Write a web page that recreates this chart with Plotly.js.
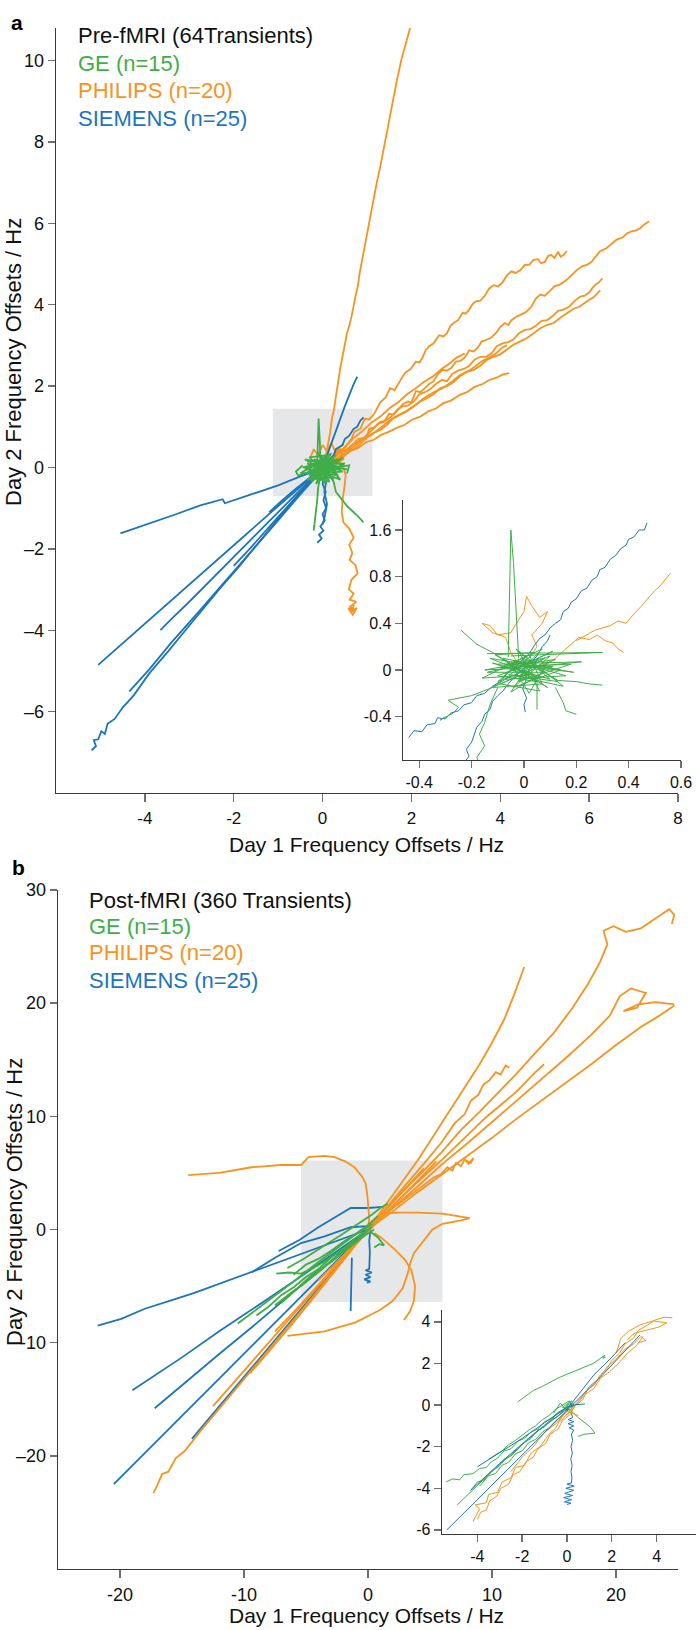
<!DOCTYPE html>
<html>
<head>
<meta charset="utf-8">
<script src="https://cdn.plot.ly/plotly-3.0.1.min.js"></script>
<style>html,body{margin:0;padding:0;background:#fff;}#chart{width:696px;height:1630px;}</style>
</head>
<body>
<div id="chart"></div>
<script>
// ---------- colours ----------
const C_GE = '#3fae49', C_PH = '#f7931e', C_SI = '#1c75bc';

// ---------- panel a : main (Day1 Hz, Day2 Hz) ----------
const A_PHILIPS = [
 [[0.05,0.15],[0.1,0.45],[0.14,0.62],[0.17,0.85],[0.21,1.2],[0.25,1.38],[0.28,1.6],[0.33,2.0],[0.37,2.2],[0.4,2.45],[0.47,2.85],[0.55,3.3],[0.6,3.48],[0.65,3.7],[0.74,4.2],[0.8,4.5],[0.83,4.75],[0.93,5.35],[1.0,5.7],[1.05,6.0],[1.17,6.7],[1.22,7.0],[1.3,7.4],[1.42,8.1],[1.55,8.8],[1.6,9.1],[1.67,9.5],[1.78,10.05],[1.88,10.45],[1.97,10.8]],
 [[0.1,0.1],[0.3,0.16],[0.45,0.08],[0.52,-0.2],[0.49,-0.5],[0.45,-0.8],[0.43,-1.1],[0.47,-1.35],[0.6,-1.5],[0.7,-1.72],[0.6,-1.9],[0.67,-2.1],[0.61,-2.27],[0.74,-2.4],[0.79,-2.6],[0.65,-2.76],[0.59,-3.0],[0.7,-3.1],[0.61,-3.25],[0.76,-3.3],[0.62,-3.42],[0.73,-3.5],[0.58,-3.46],[0.68,-3.62],[0.77,-3.45],[0.64,-3.56],[0.71,-3.38]],
 [[0.1,0.1],[0.3,0.3],[0.45,0.42],[0.55,0.38],[0.62,0.52],[0.75,0.6],[0.9,0.72],[0.98,0.7],[1.05,0.95],[1.15,0.98],[1.25,1.08],[1.38,1.12],[1.5,1.32],[1.6,1.3],[1.7,1.42],[1.8,1.55],[1.92,1.62],[2.0,1.6],[2.1,1.88],[2.2,1.85],[2.3,1.95],[2.4,2.05],[2.5,2.12],[2.6,2.3],[2.7,2.4],[2.8,2.38],[2.9,2.45],[3.0,2.6],[3.1,2.62],[3.2,2.7],[3.3,2.88],[3.4,2.85],[3.5,2.95],[3.58,3.1],[3.65,3.12],[3.78,3.18],[3.9,3.3],[4.0,3.45],[4.1,3.55],[4.18,3.5],[4.25,3.62],[4.35,3.7],[4.45,3.75],[4.58,3.82],[4.7,3.95],[4.8,4.15],[4.9,4.25],[5.0,4.22],[5.1,4.32],[5.22,4.45],[5.35,4.5],[5.48,4.6],[5.6,4.72],[5.72,4.85],[5.85,4.95],[5.95,4.98],[6.05,5.05],[6.15,5.2],[6.25,5.32],[6.38,5.38],[6.5,5.48],[6.62,5.6],[6.75,5.65],[6.85,5.75],[6.95,5.8],[7.05,5.82],[7.15,5.88],[7.25,5.98],[7.35,6.05]],
 [[0.1,0.05],[0.25,0.3],[0.35,0.45],[0.45,0.42],[0.55,0.55],[0.65,0.7],[0.72,0.88],[0.85,0.95],[0.95,1.2],[1.05,1.18],[1.15,1.3],[1.22,1.45],[1.3,1.6],[1.42,1.72],[1.52,1.95],[1.62,1.9],[1.7,2.05],[1.78,2.22],[1.85,2.32],[1.98,2.42],[2.1,2.6],[2.18,2.58],[2.25,2.7],[2.32,2.88],[2.4,2.98],[2.5,3.05],[2.62,3.25],[2.72,3.22],[2.8,3.3],[2.88,3.48],[2.95,3.55],[3.05,3.62],[3.15,3.8],[3.22,3.78],[3.3,3.88],[3.38,4.02],[3.45,4.08],[3.55,4.1],[3.65,4.22],[3.75,4.4],[3.85,4.48],[3.95,4.45],[4.05,4.55],[4.15,4.72],[4.25,4.82],[4.35,4.78],[4.45,4.85],[4.55,4.98],[4.65,4.98],[4.75,5.1],[4.85,5.12],[4.92,5.02],[5.0,5.05],[5.08,5.2],[5.15,5.22],[5.22,5.15],[5.3,5.3],[5.36,5.18],[5.42,5.22],[5.5,5.32]],
 [[0.15,0.1],[0.3,0.28],[0.5,0.42],[0.62,0.5],[0.8,0.7],[0.92,0.72],[1.05,0.85],[1.18,1.0],[1.3,1.12],[1.42,1.15],[1.55,1.25],[1.68,1.42],[1.8,1.5],[1.92,1.52],[2.05,1.62],[2.18,1.8],[2.3,1.85],[2.42,1.92],[2.55,2.05],[2.68,2.15],[2.8,2.12],[2.92,2.3],[3.05,2.38],[3.18,2.42],[3.3,2.5],[3.42,2.65],[3.55,2.72],[3.68,2.72],[3.8,2.8],[3.92,2.98],[4.05,3.05],[4.18,3.08],[4.3,3.15],[4.42,3.3],[4.55,3.38],[4.68,3.4],[4.8,3.48],[4.92,3.6],[5.05,3.62],[5.18,3.72],[5.3,3.85],[5.42,3.88],[5.55,3.95],[5.68,4.1],[5.8,4.2],[5.9,4.22],[6.0,4.3],[6.08,4.42],[6.15,4.5],[6.22,4.55],[6.3,4.65]],
 [[0.2,0.08],[0.4,0.28],[0.55,0.38],[0.7,0.45],[0.85,0.58],[1.0,0.75],[1.15,0.85],[1.3,0.92],[1.45,1.05],[1.6,1.22],[1.75,1.3],[1.9,1.38],[2.05,1.5],[2.2,1.62],[2.35,1.7],[2.5,1.8],[2.65,1.95],[2.8,2.0],[2.95,2.1],[3.1,2.25],[3.25,2.35],[3.4,2.4],[3.55,2.5],[3.7,2.65],[3.85,2.72],[4.0,2.78],[4.15,2.9],[4.3,3.02],[4.45,3.1],[4.6,3.18],[4.75,3.3],[4.9,3.42],[5.05,3.5],[5.2,3.55],[5.35,3.68],[5.5,3.8],[5.65,3.9],[5.78,3.95],[5.9,4.05],[6.0,4.12],[6.1,4.18],[6.18,4.28],[6.25,4.35]],
 [[0.1,0.05],[0.3,0.22],[0.5,0.35],[0.7,0.52],[0.9,0.68],[1.1,0.8],[1.3,0.98],[1.5,1.15],[1.7,1.28],[1.9,1.4],[2.1,1.55],[2.3,1.72],[2.5,1.85],[2.7,1.95],[2.9,2.1],[3.1,2.28],[3.3,2.38],[3.45,2.5],[3.6,2.62],[3.75,2.7],[3.9,2.8],[4.05,2.95],[4.15,3.0]],
 [[0.1,0.0],[0.3,0.18],[0.45,0.25],[0.62,0.4],[0.8,0.48],[0.98,0.62],[1.15,0.68],[1.32,0.8],[1.5,0.88],[1.68,0.98],[1.85,1.05],[2.02,1.18],[2.2,1.25],[2.38,1.38],[2.55,1.45],[2.72,1.58],[2.9,1.65],[3.08,1.78],[3.25,1.85],[3.42,1.98],[3.6,2.05],[3.75,2.15],[3.9,2.2],[4.05,2.28],[4.2,2.32]],
 [[0.1,0.1],[0.3,0.32],[0.5,0.5],[0.7,0.72],[0.9,0.9],[1.1,1.1],[1.3,1.25],[1.5,1.45],[1.7,1.6],[1.9,1.8],[2.1,1.95],[2.3,2.12],[2.5,2.25],[2.68,2.42],[2.85,2.55],[3.02,2.7],[3.2,2.8]],
 [[-0.27,0.25],[-0.2,0.45],[-0.1,0.3],[0.0,0.55],[0.1,0.4],[0.2,0.6],[0.3,0.35],[0.4,0.45],[0.47,0.2],[0.3,0.1],[0.1,0.15]]
];
const A_SIEMENS = [
 [[0,0],[-0.3,-0.36],[-0.7,-0.86],[-1.1,-1.4],[-1.5,-1.94],[-1.9,-2.46],[-2.3,-2.96],[-2.7,-3.5],[-3.1,-4.02],[-3.5,-4.55],[-3.9,-5.06],[-4.25,-5.6],[-4.5,-5.9],[-4.68,-6.18],[-4.84,-6.3],[-4.9,-6.55],[-4.98,-6.48],[-5.05,-6.68],[-5.15,-6.7],[-5.1,-6.85],[-5.2,-6.95]],
 [[0,-0.05],[-0.5,-0.66],[-1.0,-1.3],[-1.6,-2.06],[-2.2,-2.8],[-2.8,-3.56],[-3.4,-4.3],[-3.9,-4.96],[-4.35,-5.5]],
 [[0,0],[-0.6,-0.56],[-1.2,-1.14],[-1.8,-1.72],[-2.4,-2.3],[-3.0,-2.88],[-3.6,-3.45],[-4.2,-4.04],[-4.7,-4.52],[-5.05,-4.85]],
 [[0,0],[-0.5,-0.55],[-1.0,-1.1],[-1.5,-1.64],[-2.0,-2.2],[-2.5,-2.76],[-3.0,-3.3],[-3.4,-3.72],[-3.65,-4.0]],
 [[0,-0.02],[-0.5,-0.22],[-1.0,-0.44],[-1.6,-0.66],[-2.2,-0.88],[-2.25,-0.78],[-2.75,-0.93],[-3.3,-1.15],[-3.9,-1.38],[-4.55,-1.62]],
 [[0.02,0.05],[0.1,0.3],[0.2,0.62],[0.3,0.92],[0.4,1.2],[0.5,1.5],[0.6,1.8],[0.7,2.05],[0.78,2.23]],
 [[0.05,0.05],[0.15,0.2],[0.25,0.3],[0.3,0.45],[0.45,0.55],[0.5,0.7],[0.6,0.78],[0.7,0.95],[0.78,1.0],[0.85,1.15],[0.92,1.23]],
 [[0.02,0],[0.05,-0.2],[0.0,-0.4],[0.07,-0.6],[0.02,-0.8],[0.08,-1.0],[0.0,-1.15],[0.05,-1.3],[-0.05,-1.45],[0.02,-1.55],[-0.08,-1.65],[-0.02,-1.75],[-0.12,-1.85]],
 [[0.05,0],[0.09,-0.3],[0.04,-0.6],[0.1,-0.9],[0.05,-1.2],[0.0,-1.4]],
 [[0,0],[-0.4,-0.48],[-0.8,-0.96],[-1.2,-1.46],[-1.6,-1.95],[-2.0,-2.42]],
 [[0,0],[-0.3,-0.25],[-0.6,-0.52],[-0.9,-0.8],[-1.2,-1.1]]
];
const A_GE = [
 [[0,0],[0.2,0.1],[-0.15,0.05],[0.1,-0.2],[-0.3,-0.1],[0.25,0.25],[-0.1,-0.3],[0.4,0],[-0.2,0.2],[0.05,-0.1],[-0.35,0.1],[0.3,-0.15],[-0.05,0.3],[0.15,-0.35],[-0.25,-0.25],[0.35,0.2],[0,0.1],[-0.4,-0.05],[0.2,-0.05],[-0.1,0.15],[0.45,-0.1],[-0.2,-0.15],[0.1,0.3],[-0.3,0.25],[0.25,-0.3],[0,-0.05],[-0.15,-0.4],[0.3,0.05],[-0.45,0.0],[0.15,0.15],[-0.05,-0.2],[0.5,0.1],[-0.25,0.05],[0.05,0.25],[0.2,-0.25],[-0.35,-0.3],[0.1,0],[-0.1,0.35],[0.4,-0.3],[-0.2,-0.05],[0.3,0.3],[-0.05,0.05],[0.15,-0.15],[-0.4,0.2],[0.55,-0.05],[-0.15,0.1],[0.05,-0.4],[0.25,0.15],[-0.3,-0.2],[0.0,0.2],[0.35,-0.2],[-0.1,-0.1],[0.2,0.35],[-0.5,-0.15],[0.1,-0.1],[0.45,0.25],[-0.25,-0.35],[0.0,0.0]],
 [[-0.12,0.1],[-0.1,0.6],[-0.09,1.2],[-0.06,0.6],[-0.05,0.1]],
 [[0.1,-0.1],[0.25,-0.35],[0.3,-0.6],[0.45,-0.8],[0.55,-0.95],[0.7,-1.1],[0.8,-1.2],[0.92,-1.35]],
 [[-0.05,-0.2],[-0.1,-0.5],[-0.12,-0.8],[-0.15,-1.1],[-0.18,-1.4],[-0.2,-1.55]],
 [[-0.1,0],[-0.3,-0.1],[-0.55,-0.2],[-0.6,-0.1],[-0.45,0.05]],
 [[0.3,0],[0.6,0.05],[0.55,-0.15]]
];

// ---------- panel a : inset ----------
const IA_SIEMENS = [
 [[-0.44,-0.58],[-0.42,-0.52],[-0.39,-0.53],[-0.37,-0.47],[-0.34,-0.46],[-0.33,-0.41],[-0.3,-0.42],[-0.28,-0.37],[-0.25,-0.35],[-0.23,-0.3],[-0.2,-0.28],[-0.18,-0.22],[-0.15,-0.2],[-0.12,-0.14],[-0.09,-0.1],[-0.06,-0.02],[-0.03,0.03],[0.0,0.1],[0.02,0.14],[0.04,0.21],[0.06,0.27],[0.08,0.3],[0.1,0.36],[0.12,0.4],[0.14,0.43],[0.15,0.5],[0.17,0.53],[0.18,0.58],[0.2,0.61],[0.22,0.68],[0.24,0.7],[0.26,0.77],[0.28,0.8],[0.29,0.86],[0.31,0.88],[0.33,0.95],[0.35,0.98],[0.37,1.04],[0.39,1.07],[0.4,1.12],[0.42,1.14],[0.44,1.2],[0.46,1.2],[0.47,1.26]],
 [[-0.24,-0.88],[-0.23,-0.8],[-0.21,-0.74],[-0.22,-0.68],[-0.2,-0.62],[-0.19,-0.55],[-0.18,-0.49],[-0.16,-0.44],[-0.15,-0.38],[-0.13,-0.34],[-0.12,-0.27],[-0.1,-0.22],[-0.08,-0.18],[-0.06,-0.12],[-0.04,-0.07],[-0.02,-0.02],[0,0]],
 [[0.0,0.02],[0.01,-0.08],[-0.005,-0.16],[0.01,-0.24],[0.0,-0.3],[0.005,-0.36]],
 [[0.02,0.05],[0.05,0.12],[0.07,0.2],[0.09,0.25],[0.1,0.3]]
];
const IA_PHILIPS = [
 [[0.05,0.02],[0.09,0.05],[0.12,0.1],[0.15,0.16],[0.18,0.22],[0.21,0.28],[0.25,0.26],[0.28,0.3],[0.31,0.25],[0.34,0.23],[0.36,0.18],[0.38,0.15]],
 [[0.2,0.25],[0.24,0.3],[0.27,0.34],[0.3,0.36],[0.33,0.38],[0.36,0.42],[0.39,0.4],[0.42,0.48],[0.45,0.55],[0.48,0.63],[0.5,0.68],[0.52,0.72],[0.54,0.78],[0.56,0.83]],
 [[-0.02,0.05],[-0.05,0.15],[-0.07,0.28],[-0.12,0.32],[-0.16,0.4],[-0.13,0.38],[-0.1,0.3],[-0.05,0.32],[-0.02,0.43],[0.0,0.5],[0.01,0.63],[0.03,0.55],[0.06,0.45],[0.09,0.5],[0.07,0.4],[0.03,0.3],[0.05,0.2],[0.02,0.1]]
];
const IA_GE = [
 [[0,0],[0.08,0.1],[-0.06,0.05],[0.05,-0.1],[-0.1,-0.05],[0.1,0.12],[-0.04,-0.15],[0.14,0],[-0.08,0.1],[0.02,-0.05],[-0.12,0.06],[0.1,-0.08],[-0.02,0.16],[0.06,-0.18],[-0.09,-0.12],[0.12,0.09],[0,0.05],[-0.14,-0.02],[0.08,-0.02],[-0.04,0.08],[0.16,-0.05],[-0.07,-0.08],[0.04,0.15],[-0.11,0.13],[0.09,-0.15],[0,-0.02],[-0.05,-0.19],[0.11,0.03],[-0.15,0.0],[0.05,0.08],[-0.02,-0.1],[0.18,0.05],[-0.09,0.02],[0.02,0.13],[0.07,-0.12],[-0.12,-0.15],[0.03,0],[-0.03,0.18],[0.15,-0.14],[-0.07,-0.03],[0.11,0.16],[-0.02,0.02],[0.06,-0.07],[-0.13,0.1],[0.19,-0.02],[-0.05,0.05],[0.02,-0.2],[0.09,0.07],[-0.1,-0.1],[0,0.1],[0.13,-0.1],[-0.03,-0.05],[0.07,0.18],[-0.16,-0.07],[0.04,-0.04],[0,0]],
 [[-0.14,0.14],[0.3,0.15],[-0.05,0.12]],
 [[-0.1,0.05],[0.22,0.07],[0.0,0.02]],
 [[-0.06,0.11],[-0.055,0.6],[-0.05,1.2],[-0.04,0.92],[-0.03,0.55],[-0.02,0.1]],
 [[-0.05,-0.05],[-0.12,-0.15],[-0.2,-0.22],[-0.29,-0.26],[-0.25,-0.32],[-0.27,-0.37],[-0.32,-0.43],[-0.3,-0.4]],
 [[-0.05,0.05],[-0.12,0.15],[-0.18,0.22],[-0.22,0.3],[-0.24,0.34]],
 [[-0.1,-0.15],[-0.13,-0.3],[-0.15,-0.45],[-0.17,-0.55],[-0.15,-0.65],[-0.18,-0.75],[-0.16,-0.86]],
 [[0.1,-0.05],[0.13,-0.09],[0.2,-0.1],[0.25,-0.12],[0.3,-0.13]],
 [[0.12,-0.15],[0.15,-0.28],[0.16,-0.35],[0.2,-0.38]],
 [[0.05,-0.1],[0.05,-0.34]]
];

// ---------- panel b : main ----------
const B_PHILIPS = [
 [[0,0],[1.5,1.9],[3,3.6],[4.5,5.2],[6,6.9],[7.5,8.8],[9,10.4],[10.5,12.1],[12,13.8],[13.5,15.6],[15,17.4],[16.5,19.6],[17.8,21.8],[18.7,23.6],[19.3,25.2],[19.0,26.4],[19.8,26.8],[20.8,26.3],[22,26.6],[23.2,27.5],[24.3,28.3],[24.7,27.8],[24.5,27.0]],
 [[0,0],[2,1.9],[4,3.8],[6,5.8],[8,7.6],[10,9.5],[12,11.4],[14,13.3],[16,15.2],[18,17.2],[19.5,18.9],[20.3,20.6],[21.2,21.3],[22.4,20.9],[21.7,19.6],[20.6,19.3],[21.8,19.9],[23.2,20.1],[24.7,19.9]],
 [[0,0],[2,1.6],[4,3.3],[6,4.9],[8,6.5],[10,8.1],[12,9.8],[14,11.4],[16,13.0],[18,14.6],[20,16.3],[22,17.9],[23.5,18.9],[24.7,19.8]],
 [[0,0],[1,1.5],[2,3.0],[3,4.6],[4,6.1],[5,7.8],[6,9.5],[7,11.1],[8,12.9],[9,14.6],[10,16.5],[11,18.6],[11.8,20.8],[12.3,22.2],[12.6,23.2]],
 [[0,0],[1.5,2.0],[3,3.9],[4.5,5.8],[6,7.8],[7,9.4],[7.8,10.2],[8.3,11.4],[8.9,11.9],[9.3,12.8],[9.8,13.2],[10.3,13.9],[10.7,13.7],[11.1,14.5],[11.4,14.3]],
 [[0,0],[2,2.1],[4,4.2],[6,6.2],[8,8.3],[9.5,9.9],[10.7,11.0],[12,12.2],[13.5,13.9],[14.2,14.6]],
 [[0,0],[1.2,1.3],[2.4,2.2],[3.5,3.1],[4.5,3.9],[5.3,4.6],[5.9,4.9],[6.4,5.5],[6.8,5.2],[7.1,5.9],[7.5,5.6],[7.8,6.2],[8.1,5.8],[8.5,6.3],[8.3,5.9],[7.9,6.1]],
 [[-14.5,4.8],[-12,5.0],[-9.4,5.5],[-7,5.7],[-5.4,5.7],[-4.8,6.4],[-3.5,6.5],[-2.7,6.4],[-1.8,6.0],[-1.1,5.5],[-0.5,4.7],[-0.2,4.1],[-0.05,3.0],[0,2.0],[0.1,1.0],[0,0]],
 [[0,0],[1.3,1.4],[2.5,1.5],[4,1.5],[6,1.4],[8.2,1.0],[7.5,0.8],[6,0.5],[5.2,0],[4.6,-0.8],[4,-1.6],[3.7,-2.1],[3.4,-3.0],[3.2,-3.9],[2.8,-5.2],[2.0,-6.3],[1,-7.1],[-1,-8.2],[-3.5,-9.0],[-6.5,-9.4]],
 [[0.5,-0.3],[1.05,-0.7],[2.2,-1.8],[3.0,-2.7],[3.5,-3.6],[3.8,-5],[3.7,-6.3],[3.4,-7.2],[2.9,-8.0]],
 [[0,0],[-2,-2.7],[-4,-5.4],[-6,-8.0],[-8,-10.6],[-10,-13.2],[-12,-15.8],[-13.5,-17.8],[-14.8,-19.6],[-15.5,-20.2],[-16.1,-21.4],[-16.6,-21.6],[-17.0,-22.6],[-17.3,-23.3]],
 [[0,0],[-2,-2.5],[-4,-5.0],[-6,-7.5],[-8,-9.9],[-10,-12.4],[-11.5,-14.3],[-12.5,-15.6]],
 [[0,0],[-2,-2.8],[-4,-5.5],[-6,-8.2],[-8,-10.8],[-9.5,-12.7]],
 [[0,0],[-2,-2.4],[-4,-4.9],[-6,-7.3],[-7.5,-9.0]],
 [[-3,-3.5],[-1.5,-1.8],[0,0],[1.5,1.8],[3,3.6],[4.5,5.4]],
 [[-4,-4.5],[-2,-2.3],[0,-0.2],[2,2.1],[4,4.3],[5.5,6.0]]
];
const B_SIEMENS = [
 [[0,0],[-2,-0.8],[-4,-1.6],[-6,-2.4],[-8,-3.2],[-10,-4.0],[-12,-4.8],[-14,-5.6],[-16,-6.3],[-18,-7.0],[-19.9,-7.9],[-21.8,-8.5]],
 [[0,0],[-3,-2.3],[-6,-4.6],[-9,-6.8],[-12,-9.0],[-15,-11.3],[-19,-14.2]],
 [[0,0],[-3,-2.8],[-6,-5.5],[-9,-8.3],[-12,-11.0],[-15,-13.8],[-17.2,-15.8]],
 [[0,0],[-3,-3.9],[-6,-7.8],[-9,-11.7],[-12,-15.6],[-14.2,-18.5]],
 [[0,0],[-4,-4.4],[-8,-8.8],[-12,-13.2],[-16,-17.6],[-20.5,-22.5]],
 [[1.2,2.0],[0,1.9],[-1.4,1.9],[-2.8,1.0],[-4,0.2],[-5.5,-0.9],[-7.2,-1.9]],
 [[0,0.3],[-1.4,0.2],[-3.5,-0.6],[-5.4,-1.2],[-7.5,-2.5],[-9.4,-3.8]],
 [[-1.3,-2.5],[-1.35,-4.5],[-1.4,-7.2]],
 [[0.2,0],[0.1,-1],[0.15,-2],[0.1,-3],[0.1,-3.5],[-0.2,-3.6],[0.3,-3.8],[-0.2,-4.0],[0.2,-4.2],[-0.3,-4.4],[0.2,-4.6],[-0.1,-4.7]]
];
const B_GE = [
 [[1.6,2.3],[1.0,1.9],[0.3,1.3],[-0.5,0.7],[-1.2,0.2],[-2.2,-0.5],[-3.2,-1.2],[-4.2,-1.9],[-5.2,-2.6],[-6.5,-3.4]],
 [[0.5,0],[-0.4,-0.6],[-1.2,-1.2],[-2.0,-1.8],[-2.8,-2.3],[-3.6,-2.9],[-4.4,-3.4],[-5.4,-3.9],[-6.4,-3.8],[-7.4,-3.9]],
 [[0,0],[-0.8,-0.9],[-1.5,-1.4],[-2.3,-2.2],[-3.0,-2.8],[-3.8,-3.6],[-4.5,-4.2],[-5.3,-4.9],[-6.0,-5.4],[-6.8,-6.1],[-7.5,-6.7]],
 [[0.3,0.2],[-1.0,-0.8],[-2.0,-1.7],[-3.0,-2.5],[-4.0,-3.5],[-5.0,-4.2],[-6.0,-5.1],[-7.0,-5.8],[-8.0,-6.8],[-9.0,-7.6]],
 [[0.8,1.2],[0,0.4],[-1,-0.4],[-2,-1.1],[-3,-1.9],[-4,-2.6],[-5,-3.1],[-6,-4.0]],
 [[0.4,0.5],[-1.2,-0.6],[-2.8,-1.9],[-4.4,-3.2],[-6.0,-4.6],[-7.6,-5.9],[-9.2,-7.2],[-10.5,-8.3]],
 [[0,-0.3],[-1.5,-1.6],[-3.0,-2.9],[-4.5,-4.0],[-5.8,-5.3],[-7.0,-6.5]],
 [[0.2,-0.2],[0.8,-0.7],[1.3,-1.4],[0.9,-1.3],[0.5,-1.6]]
];

// ---------- panel b : inset ----------
const IB_SIEMENS = [
 [[-5.36,-6.0],[-4,-4.55],[-2,-2.42],[0,-0.3],[1.5,1.35],[3.26,3.37]],
 [[-4.0,-2.97],[-3.4,-2.55],[-3.0,-2.3],[-2.0,-1.6],[-1.0,-0.85],[0,-0.1],[0.4,0.02],[0.8,0.05]],
 [[0.2,-0.4],[0.25,-0.6],[0.05,-0.7],[0.3,-0.8],[0.05,-0.9],[0.3,-1.0],[0.1,-1.1],[0.3,-1.2],[0.2,-1.4],[0.25,-1.7],[0.18,-2.0],[0.24,-2.3],[0.17,-2.6],[0.23,-2.9],[0.18,-3.2],[0.22,-3.5],[0.2,-3.75],[0.0,-3.8],[0.32,-3.9],[-0.05,-4.0],[0.3,-4.1],[-0.1,-4.25],[0.25,-4.35],[-0.15,-4.45],[0.2,-4.55],[-0.12,-4.65],[0.18,-4.72],[0.0,-4.78]],
 [[-4.3,-4.1],[-3,-2.8],[-1.5,-1.4],[0,-0.2]],
 [[0,-0.2],[0.6,0.6],[1.2,1.45],[2,2.3],[2.6,3.0]]
];
const IB_PHILIPS = [
 [[-4.0,-5.5],[-3.85,-5.15],[-3.6,-5.05],[-3.45,-4.6],[-3.15,-4.4],[-2.95,-4.0],[-2.6,-3.8],[-2.4,-3.35],[-2.1,-3.2],[-1.85,-2.75],[-1.5,-2.5],[-1.3,-2.1],[-0.95,-1.85],[-0.75,-1.4],[-0.4,-1.15],[-0.2,-0.75],[0.15,-0.45],[0.35,-0.05],[0.7,0.25],[0.9,0.7],[1.25,1.0],[1.45,1.4],[1.8,1.75],[2.0,2.15],[2.35,2.5],[2.6,2.95],[2.95,3.2],[3.2,3.6],[3.6,3.85],[3.95,4.1],[4.35,4.22],[4.7,4.2]],
 [[2.2,2.5],[2.4,3.2],[2.75,3.55],[3.25,3.85],[3.85,4.05],[4.45,3.95],[4.1,3.75],[3.5,3.6],[3.0,3.45],[2.7,3.15]],
 [[-0.3,-0.8],[0.2,-0.2],[0.6,0.3],[1.0,0.9],[1.4,1.25],[1.8,1.85],[2.2,2.2],[2.6,2.7],[3.0,2.95],[3.3,3.3],[3.5,3.1],[3.2,3.0]],
 [[0,-0.5],[0.4,0.0],[0.8,0.5],[1.2,0.8],[1.5,1.3],[1.9,1.6],[2.3,2.0],[2.7,2.5],[3.1,2.85],[3.4,3.3]],
 [[-4.2,-5.6],[-3.9,-5.0],[-4.1,-4.8],[-3.6,-4.7],[-3.5,-4.3],[-3.1,-4.2],[-2.9,-3.7],[-2.5,-3.5],[-2.3,-3.0],[-1.9,-2.9],[-1.6,-2.3],[-1.2,-2.0],[-0.8,-1.4],[-0.5,-1.1],[-0.2,-0.5]],
 [[-2.5,-3.2],[-2.0,-2.5],[-1.5,-2.0],[-1.0,-1.3],[-0.5,-0.9],[0,-0.3],[0.5,-0.5]]
];
const IB_GE = [
 [[-2.2,0.15],[-1.9,0.4],[-1.5,0.7],[-1.1,0.9],[-0.76,1.1],[-0.3,1.35],[0.27,1.6],[0.7,1.8],[1.17,2.0],[1.5,2.25],[1.7,2.4],[1.6,2.25],[1.72,2.3]],
 [[-4.9,-4.8],[-3.5,-3.35],[-2,-1.9],[-0.5,-0.5],[0.3,0.1]],
 [[-5.4,-3.7],[-5.1,-3.55],[-4.8,-3.6],[-4.6,-3.35],[-4.2,-3.3],[-3.9,-3.05],[-3.6,-3.0],[-3.4,-2.75],[-3.1,-2.55],[-2.8,-2.2],[-2.5,-2.1],[-2.2,-1.75],[-1.9,-1.6],[-1.6,-1.3],[-1.3,-1.15],[-1.0,-0.8],[-0.7,-0.65],[-0.4,-0.35],[-0.15,-0.2],[0.1,0.1]],
 [[-4.3,-4.1],[-4.0,-3.7],[-3.7,-3.6],[-3.4,-3.2],[-3.1,-3.0],[-2.8,-2.6],[-2.5,-2.45],[-2.2,-2.1],[-1.9,-1.8],[-1.6,-1.6],[-1.3,-1.2],[-1.0,-1.05],[-0.7,-0.7],[-0.4,-0.55],[-0.1,-0.2],[0.1,0.05]],
 [[-3.9,-3.9],[-3.5,-3.4],[-3.2,-3.3],[-2.9,-2.9],[-2.6,-2.75],[-2.3,-2.35],[-2.0,-2.2],[-1.7,-1.8],[-1.4,-1.65],[-1.1,-1.3],[-0.8,-1.1],[-0.5,-0.75],[-0.2,-0.5],[0.1,-0.2]],
 [[-3.5,-2.6],[-3.2,-2.4],[-2.9,-2.2],[-2.6,-1.9],[-2.3,-1.7],[-2.0,-1.45],[-1.7,-1.2],[-1.4,-1.0],[-1.1,-0.7],[-0.8,-0.5],[-0.5,-0.2],[-0.2,0.0],[0.1,0.2],[0.25,-0.1],[0.0,-0.05]],
 [[-0.6,-0.4],[-0.3,0.1],[0.0,-0.3],[0.2,0.2],[-0.2,-0.1],[0.15,-0.25],[0.3,0.05]],
 [[0.1,-0.2],[0.5,-0.6],[1.03,-1.05],[1.25,-1.35],[0.8,-1.4],[0.5,-1.5]]
];

// ---------- ticks ----------
const A_X_TICKS = [-4,-2,0,2,4,6,8], A_X_TEXT = ['-4','-2','0','2','4','6','8'];
const A_Y_TICKS = [-6,-4,-2,0,2,4,6,8,10], A_Y_TEXT = ['\u20136','\u20134','\u20132','0','2','4','6','8','10'];
const IA_X_TICKS = [-0.4,-0.2,0,0.2,0.4,0.6], IA_X_TEXT = ['-0.4','-0.2','0','0.2','0.4','0.6'];
const IA_Y_TICKS = [-0.4,0,0.4,0.8,1.2], IA_Y_TEXT = ['-0.4','0','0.4','0.8','1.6'];
const B_X_TICKS = [-20,-10,0,10,20], B_X_TEXT = ['-20','-10','0','10','20'];
const B_Y_TICKS = [-20,-10,0,10,20,30], B_Y_TEXT = ['\u201320','-10','0','10','20','30'];
const IB_X_TICKS = [-4,-2,0,2,4], IB_X_TEXT = ['-4','-2','0','2','4'];
const IB_Y_TICKS = [-6,-4,-2,0,2,4], IB_Y_TEXT = ['-6','-4','-2','0','2','4'];

// ---------- build ----------
function flat(curves){
  const x=[], y=[];
  curves.forEach(c => { c.forEach(p => { x.push(p[0]); y.push(p[1]); }); x.push(null); y.push(null); });
  return {x, y};
}
function tr(curves, color, width, xa, ya){
  const d = flat(curves);
  return {type:'scatter', mode:'lines', x:d.x, y:d.y, xaxis:xa, yaxis:ya,
          line:{color:color, width:width, shape:'linear'}, hoverinfo:'skip', connectgaps:false};
}
const traces = [
  tr(A_PHILIPS, C_PH, 1.8, 'x', 'y'),
  tr(A_SIEMENS, C_SI, 1.8, 'x', 'y'),
  tr(A_GE, C_GE, 1.8, 'x', 'y'),
  tr(IA_PHILIPS, C_PH, 1, 'x2', 'y2'),
  tr(IA_SIEMENS, C_SI, 1, 'x2', 'y2'),
  tr(IA_GE, C_GE, 1, 'x2', 'y2'),
  tr(B_SIEMENS, C_SI, 1.8, 'x3', 'y3'),
  tr(B_PHILIPS, C_PH, 1.8, 'x3', 'y3'),
  tr(B_GE, C_GE, 1.8, 'x3', 'y3'),
  tr(IB_GE, C_GE, 1, 'x4', 'y4'),
  tr(IB_PHILIPS, C_PH, 1, 'x4', 'y4'),
  tr(IB_SIEMENS, C_SI, 1, 'x4', 'y4')
];

const W = 696, H = 1630;
const px = v => v / W, py = v => 1 - v / H;
const FONT = 'Liberation Sans, Arial, Helvetica, sans-serif';

function axis(o){
  return Object.assign({
    showline:true, linecolor:'#3a3a3a', linewidth:1.4, mirror:false,
    ticks:'outside', ticklen:7, tickwidth:1.4, tickcolor:'#707070',
    showgrid:false, zeroline:false, tickmode:'array', fixedrange:true,
    tickfont:{family:FONT, size:18, color:'#111'}
  }, o);
}
const INSET_FONT = {family:FONT, size:16, color:'#111'};

const layout = {
  width:W, height:H, margin:{l:0, r:0, t:0, b:0},
  paper_bgcolor:'#ffffff', plot_bgcolor:'rgba(0,0,0,0)',
  showlegend:false, font:{family:FONT, color:'#111'},
  xaxis: axis({domain:[px(56), px(678)], range:[-6, 8], anchor:'y', tickvals:A_X_TICKS, ticktext:A_X_TEXT, ticklen:8, ticklabelstandoff:1, tickfont:{family:FONT, size:17, color:'#111'}}),
  yaxis: axis({domain:[py(793), py(28)], range:[-8, 10.8], anchor:'x', tickvals:A_Y_TICKS, ticktext:A_Y_TEXT}),
  xaxis2: axis({domain:[px(403), px(681)], range:[-0.462, 0.6], anchor:'y2', tickvals:IA_X_TICKS, ticktext:IA_X_TEXT, tickfont:INSET_FONT, ticklen:7, ticklabelstandoff:0}),
  yaxis2: axis({domain:[py(760), py(500)], range:[-0.772, 1.457], anchor:'x2', tickvals:IA_Y_TICKS, ticktext:IA_Y_TEXT, tickfont:INSET_FONT}),
  xaxis3: axis({domain:[px(58), px(678)], range:[-25, 25], anchor:'y3', tickvals:B_X_TICKS, ticktext:B_X_TEXT, ticklen:8, ticklabelstandoff:1}),
  yaxis3: axis({domain:[py(1569), py(890)], range:[-30, 30], anchor:'x3', tickvals:B_Y_TICKS, ticktext:B_Y_TEXT}),
  xaxis4: axis({domain:[px(442), 1], range:[-5.58, 5.76], anchor:'y4', tickvals:IB_X_TICKS, ticktext:IB_X_TEXT, tickfont:INSET_FONT, ticklabelstandoff:0}),
  yaxis4: axis({domain:[py(1534), py(1310)], range:[-6.2, 4.57], anchor:'x4', tickvals:IB_Y_TICKS, ticktext:IB_Y_TEXT, tickfont:INSET_FONT}),
  shapes: [
    {type:'rect', xref:'x', yref:'y', x0:-1.12, x1:1.12, y0:-0.70, y1:1.44, fillcolor:'#e6e7e8', line:{width:0}, layer:'below'},
    {type:'rect', xref:'x3', yref:'y3', x0:-5.4, x1:6.0, y0:-6.4, y1:6.1, fillcolor:'#e6e7e8', line:{width:0}, layer:'below'}
  ],
  annotations: []
};

function note(text, x, y, color, size, extra){
  layout.annotations.push(Object.assign({text:text, xref:'paper', yref:'paper', x:px(x), y:py(y),
    xanchor:'left', yanchor:'middle', showarrow:false, font:{family:FONT, size:size, color:color}}, extra||{}));
}
// panel letters
note('<b>a</b>', 9, 22, '#000', 21);
note('<b>b</b>', 10, 867, '#000', 21);
// legend texts
note('Pre-fMRI (64Transients)', 76, 36, '#111', 22);
note('GE (n=15)', 76, 63, C_GE, 22);
note('PHILIPS (n=20)', 76, 90, C_PH, 22);
note('SIEMENS (n=25)', 76, 118, C_SI, 22);
note('Post-fMRI (360 Transients)', 87, 900, '#111', 22);
note('GE (n=15)', 87, 926, C_GE, 22);
note('PHILIPS (n=20)', 87, 953, C_PH, 22);
note('SIEMENS (n=25)', 87, 980, C_SI, 22);
// axis titles
note('Day 1 Frequency Offsets / Hz', 367, 844, '#111', 21, {xanchor:'center'});
note('Day 1 Frequency Offsets / Hz', 367, 1615, '#111', 21, {xanchor:'center'});
note('Day 2 Frequency Offsets / Hz', 13, 362, '#111', 22, {xanchor:'center', textangle:-90});
note('Day 2 Frequency Offsets / Hz', 14, 1202, '#111', 22, {xanchor:'center', textangle:-90});

Plotly.newPlot('chart', traces, layout, {staticPlot:true, displayModeBar:false});
</script>
</body>
</html>
